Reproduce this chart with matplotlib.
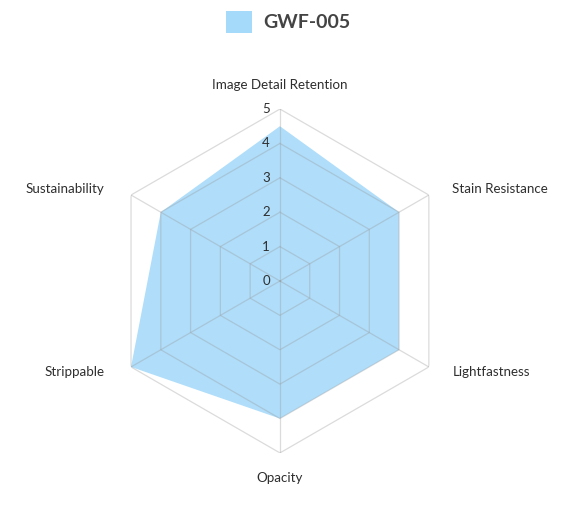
import numpy as np
import matplotlib
matplotlib.use('Agg')
from matplotlib import pyplot as plt
from matplotlib.patches import Patch

plt.rcParams['font.family'] = ['Lato', 'DejaVu Sans']

categories = ['Image Detail Retention', 'Stain Resistance', 'Lightfastness',
              'Opacity', 'Strippable', 'Sustainability']
values = [4.5, 4, 4, 4, 5, 4]
series_name = 'GWF-005'
rings = [1, 2, 3, 4, 5]

fill_color = '#a6dafa'
text_color = '#2e2e2e'

fig = plt.figure(figsize=(5.61, 5.15), dpi=100)
ax = fig.add_axes([0.1925, 0.1204, 0.613, 0.668], projection='polar')
ax.set_theta_offset(np.pi / 2)
ax.set_theta_direction(-1)
ax.set_ylim(0, 5)
ax.grid(False)
ax.spines['polar'].set_visible(False)
ax.set_xticks([])
ax.set_yticks([])

n = len(categories)
angles = np.linspace(0, 2 * np.pi, n, endpoint=False)
closed = np.append(angles, angles[0])

# data fill
vals = np.append(values, values[0])
ax.fill(closed, vals, color=fill_color, alpha=0.9, zorder=2, linewidth=0)

# hexagon grid
for r in rings:
    ax.plot(closed, [r] * (n + 1), color='#999999', alpha=0.35, lw=0.9, zorder=3)
for a in angles:
    ax.plot([a, a], [0, 5], color='#999999', alpha=0.35, lw=0.9, zorder=3)

# radial tick labels
for r in [0] + rings:
    ax.annotate(str(r), xy=(0, r), xytext=(-10, 0), textcoords='offset points',
                ha='center', va='center', fontsize=9.5, color=text_color, zorder=4)

# category labels
for a, lab in zip(angles, categories):
    deg = np.degrees(a)
    if deg < 1:
        ax.annotate(lab, xy=(a, 5), xytext=(0, 17), textcoords='offset points',
                    ha='center', va='center', fontsize=9.6, color=text_color)
    elif abs(deg - 180) < 1:
        ax.annotate(lab, xy=(a, 5), xytext=(0, -18), textcoords='offset points',
                    ha='center', va='center', fontsize=9.6, color=text_color)
    else:
        dx = 17 if deg < 180 else -19
        dy = 4.5 if (deg < 90 or deg > 270) else -3.5
        ax.annotate(lab, xy=(a, 5), xytext=(dx, dy), textcoords='offset points',
                    ha='left' if deg < 180 else 'right', va='center',
                    fontsize=9.6, color=text_color)

handle = Patch(facecolor=fill_color, edgecolor='none')
leg = fig.legend([handle], [series_name], loc='upper center', bbox_to_anchor=(0.514, 1.012),
                 frameon=False, handlelength=1.3, handleheight=1.3, handletextpad=0.6,
                 prop={'size': 14, 'weight': 'bold'})
for t in leg.get_texts():
    t.set_color('#444444')

fig.savefig('out.png', dpi=100)
